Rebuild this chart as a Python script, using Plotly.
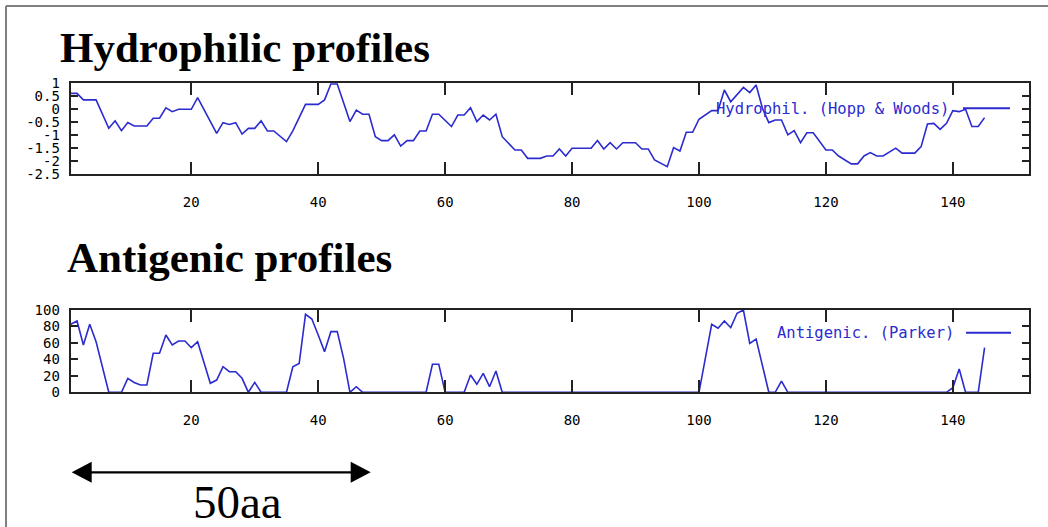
import plotly.graph_objects as go

# ---------------- data ----------------
hydro_pos = [1, 2, 3, 5, 7, 8, 9, 10, 11, 13, 14, 15, 16, 17, 18, 20, 21, 24, 25, 26, 27, 28, 29, 30,
             31, 32, 33, 35, 36, 38, 40, 41, 42, 43, 45, 46, 47, 48, 49, 50, 51, 52, 53, 54, 55, 56,
             57, 58, 59, 61, 62, 63, 64, 65, 66, 67, 68, 69, 71, 72, 73, 75, 76, 77, 78, 79, 80, 83,
             84, 85, 86, 87, 88, 90, 91, 92, 93, 95, 96, 97, 98, 99, 100, 102, 103, 104, 105, 106,
             107, 108, 109, 110, 111, 112, 113, 114, 115, 116, 117, 118, 120, 121, 122, 124, 125,
             126, 127, 128, 129, 131, 132, 134, 135, 136, 137, 138, 139, 140, 141, 142, 143, 144, 145]
hydro_val = [0.59, 0.59, 0.34, 0.34, -0.75, -0.46, -0.84, -0.53, -0.66, -0.66, -0.36, -0.36, 0.04,
             -0.11, -0.02, -0.02, 0.43, -0.94, -0.53, -0.60, -0.53, -0.97, -0.75, -0.75, -0.46, -0.85,
             -0.85, -1.26, -0.85, 0.17, 0.17, 0.34, 0.95, 0.95, -0.49, -0.05, -0.21, -0.21, -1.07,
             -1.22, -1.22, -1.00, -1.43, -1.22, -1.22, -0.85, -0.85, -0.21, -0.21, -0.68, -0.24,
             -0.24, 0.04, -0.49, -0.24, -0.43, -0.21, -1.07, -1.58, -1.58, -1.90, -1.90, -1.81,
             -1.81, -1.54, -1.81, -1.51, -1.51, -1.22, -1.54, -1.30, -1.54, -1.30, -1.30, -1.54,
             -1.54, -1.96, -2.22, -1.49, -1.62, -0.90, -0.90, -0.40, -0.07, -0.07, 0.72, 0.27, 0.53,
             0.82, 0.62, 0.91, 0.02, -0.53, -0.43, -0.43, -1.00, -0.84, -1.30, -0.92, -0.92, -1.58,
             -1.58, -1.81, -2.11, -2.11, -1.81, -1.68, -1.81, -1.81, -1.51, -1.70, -1.70, -1.45,
             -0.58, -0.56, -0.79, -0.56, -0.07, -0.11, -0.02, -0.68, -0.68, -0.34]

anti_pos = [1, 2, 3, 4, 5, 7, 9, 10, 11, 12, 13, 14, 15, 16, 17, 18, 19, 20, 21, 23, 24, 25, 26, 27,
            28, 29, 30, 31, 34, 35, 36, 37, 38, 39, 40, 41, 42, 43, 44, 45, 46, 47, 57, 58, 59, 60,
            63, 64, 65, 66, 67, 68, 69, 100, 102, 103, 104, 105, 106, 107, 108, 109, 111, 112, 113,
            114, 139, 140, 141, 142, 144, 145]
anti_val = [82.6, 86.6, 57.5, 82.6, 61.5, 0, 0, 17, 12, 8.9, 8.9, 47.4, 47.4, 69.6, 57.5, 62.3, 62.3,
            54.2, 61.5, 10.9, 14.9, 31.1, 25, 25, 17, 0, 12, 0, 0, 0, 31, 35, 94.8, 89, 69.6, 49.4,
            73.7, 73.7, 41.3, 0, 6.8, 0, 0, 34, 34, 0, 0, 21, 9.7, 23, 6.8, 25.9, 0, 0, 82.6, 77.8,
            86.6, 78.5, 96, 100, 59.5, 64.8, 0, 0, 13.7, 0, 0, 5.6, 28.3, 0, 0, 54.2]

x_ticks = [20, 40, 60, 80, 100, 120, 140]
hydro_ticks = [1, 0.5, 0, -0.5, -1, -1.5, -2, -2.5]
hydro_ticktext = ["1", "0.5", "0", "-0.5", "-1", "-1.5", "-2", "-2.5"]
anti_ticks = [0, 20, 40, 60, 80, 100]
anti_ticktext = ["0", "20", "40", "60", "80", "100"]

hydro_label = "Hydrophil. (Hopp & Woods)"
anti_label = "Antigenic. (Parker)"
title_top = "Hydrophilic profiles"
title_bottom = "Antigenic profiles"
scale_label = "50aa"

# ---------------- layout helpers ----------------
W, H = 1048, 527
px = lambda v: v / W
py = lambda v: 1 - v / H

BLUE = "#2b2bd0"
AXC = "#222222"
TICKFONT = dict(family="DejaVu Sans Mono", size=14, color="#000000")

fig = go.Figure()
fig.add_trace(go.Scatter(x=hydro_pos, y=hydro_val, mode="lines",
                         line=dict(color=BLUE, width=1.6), xaxis="x", yaxis="y",
                         showlegend=False, hoverinfo="skip"))
fig.add_trace(go.Scatter(x=anti_pos, y=anti_val, mode="lines",
                         line=dict(color=BLUE, width=1.6), xaxis="x2", yaxis="y2",
                         showlegend=False, hoverinfo="skip"))

xdom = [px(70.7), px(1029)]
common_x = dict(range=[1, 152], domain=xdom, tickvals=x_ticks, ticks="inside", ticklen=12,
                tickwidth=2, tickcolor=AXC, showline=True, linecolor=AXC, linewidth=2,
                mirror="ticks", showgrid=False, zeroline=False, tickfont=TICKFONT,
                ticklabelstandoff=14, automargin=False, fixedrange=True)
common_y = dict(ticks="inside", ticklen=7, tickwidth=2, tickcolor=AXC, showline=True,
                linecolor=AXC, linewidth=2, mirror="ticks", showgrid=False, zeroline=False,
                tickfont=TICKFONT, ticklabelstandoff=6, automargin=False, fixedrange=True)

fig.update_layout(
    width=W, height=H, autosize=False,
    margin=dict(l=0, r=0, t=0, b=0),
    paper_bgcolor="white", plot_bgcolor="white",
    xaxis=dict(**common_x, anchor="y"),
    yaxis=dict(**common_y, anchor="x", domain=[py(174), py(82.7)], range=[-2.5, 1],
               tickvals=hydro_ticks, ticktext=hydro_ticktext),
    xaxis2=dict(**common_x, anchor="y2"),
    yaxis2=dict(**common_y, anchor="x2", domain=[py(392.3), py(310)], range=[0, 100],
                tickvals=anti_ticks, ticktext=anti_ticktext),
)

annotations = [
    dict(text=f"<b>{title_top}</b>", x=px(58), y=py(48), xanchor="left", yanchor="middle",
         font=dict(family="Liberation Serif", size=43, color="black")),
    dict(text=f"<b>{title_bottom}</b>", x=px(65), y=py(257), xanchor="left", yanchor="middle",
         font=dict(family="Liberation Serif", size=43, color="black")),
    dict(text=scale_label, x=px(237.5), y=py(502), xanchor="center", yanchor="middle",
         font=dict(family="Liberation Serif", size=47, color="black")),
    dict(text=hydro_label, x=px(951), y=py(109.5), xanchor="right", yanchor="middle",
         font=dict(family="DejaVu Sans Mono", size=15.5, color=BLUE)),
    dict(text=anti_label, x=px(956), y=py(333), xanchor="right", yanchor="middle",
         font=dict(family="DejaVu Sans Mono", size=15.5, color=BLUE)),
]
for a in annotations:
    a.update(xref="paper", yref="paper", showarrow=False)
fig.update_layout(annotations=annotations)

def tri(x0, x1, yc, h):
    return (f"M {px(x0)} {py(yc)} L {px(x1)} {py(yc - h / 2)} "
            f"L {px(x1)} {py(yc + h / 2)} Z")

shapes = [
    # frame of the picture
    dict(type="line", x0=px(6), x1=1, y0=py(6), y1=py(6), line=dict(color="#808080", width=2)),
    dict(type="line", x0=px(6), x1=px(6), y0=py(6), y1=0, line=dict(color="#808080", width=2)),
    # legend sample lines
    dict(type="line", x0=px(963), x1=px(1010), y0=py(108.3), y1=py(108.3),
         line=dict(color=BLUE, width=2)),
    dict(type="line", x0=px(966), x1=px(1011), y0=py(332.7), y1=py(332.7),
         line=dict(color=BLUE, width=2)),
    # scale arrow
    dict(type="line", x0=px(88), x1=px(354), y0=py(472.3), y1=py(472.3),
         line=dict(color="black", width=2.2)),
    dict(type="path", path=tri(71.7, 91.7, 472.3, 21), fillcolor="black", line=dict(width=0)),
    dict(type="path", path=tri(370.7, 350.7, 472.3, 21), fillcolor="black", line=dict(width=0)),
]
for s in shapes:
    s.update(xref="paper", yref="paper", layer="above")
fig.update_layout(shapes=shapes)

fig.write_html(
    "out.html",
    config={"displayModeBar": False, "staticPlot": True},
    post_script="document.body.style.margin='0';document.documentElement.style.overflow='hidden';",
)
